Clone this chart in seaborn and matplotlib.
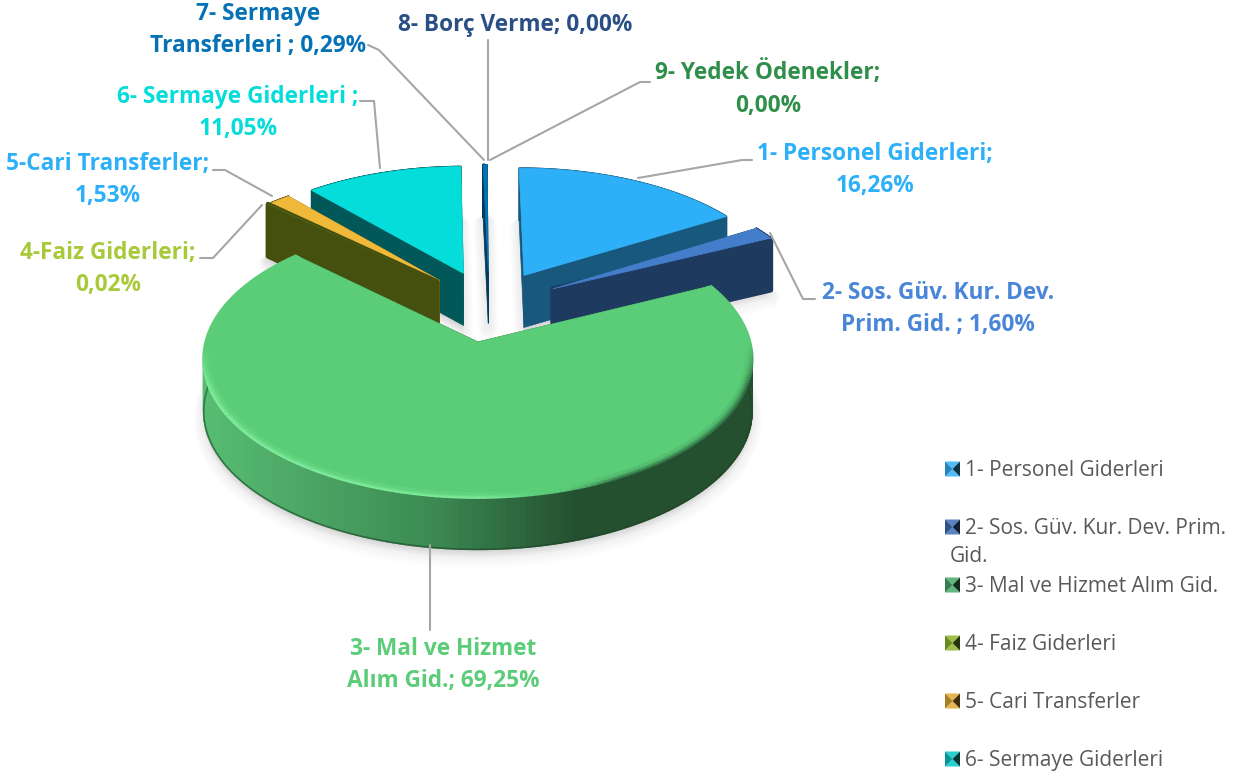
import numpy as np
import seaborn as sns
import matplotlib.pyplot as plt
from matplotlib.collections import LineCollection, PolyCollection
from matplotlib.colors import to_rgb
from matplotlib.patches import Polygon

names = ["1- Personel Giderleri;", "2- Sos. Güv. Kur. Dev.\nPrim. Gid. ;", "3- Mal ve Hizmet\nAlım Gid.;",
         "4-Faiz Giderleri;", "5-Cari Transferler;", "6- Sermaye Giderleri ;",
         "7- Sermaye\nTransferleri ;", "8- Borç Verme;", "9- Yedek Ödenekler;"]
values = [16.26, 1.60, 69.25, 0.02, 1.53, 11.05, 0.29, 0.00, 0.00]
legend_names = ["1- Personel Giderleri", "2- Sos. Güv. Kur. Dev. Prim.\nGid.", "3- Mal ve Hizmet Alım Gid.",
                "4- Faiz Giderleri", "5- Cari Transferler", "6- Sermaye Giderleri"]
top_colors = ["#2EB0F8", "#447ECB", "#5BCD78", "#A8C93A", "#F0B93A", "#04DDDA", "#0572B5", "#2A4F85", "#2F8F4A"]
wall_colors = ["#17587C", "#1E3A5F", "#24502F", "#45500F", "#7A5A15", "#025858", "#03395A", "#152840", "#174825"]
label_colors = ["#2EB0F8", "#4A86D8", "#5BCD78", "#A8C93A", "#2EB0F8", "#04DDDA", "#0572B5", "#2A4F85", "#2F8F4A"]
legend_colors = ["#2EB0F8", "#3A6DB5", "#45A868", "#8DB52A", "#E0A830", "#05C8C8"]

label_pos = [(875, 170), (938, 309), (443, 665), (108, 269), (108, 180), (238, 113), (258, 30), (515, 25), (768, 89)]
leaders = [[(638, 178), (742, 160), (752, 160)],
           [(770, 233), (803, 299), (815, 299)],
           [(430, 545), (430, 630)],
           [(262, 205), (213, 258), (200, 258)],
           [(272, 196), (225, 170), (213, 170)],
           [(380, 168), (374, 101), (360, 101)],
           [(484, 160), (379, 50), (368, 45)],
           [(488, 160), (488, 40)],
           [(490, 160), (640, 82), (650, 82)]]
explode = 0.28
depth = 52
draw_order = [6, 5, 0, 4, 3, 1, 2]

sns.set_theme(style="white")
plt.rcParams["font.family"] = ["Open Sans", "DejaVu Sans"]


def project(x, y):
    # perspective of the tilted pie onto pixels
    w = 1 + 0.125 * (y + 0.277)
    return 478 + 272 * (x + 0.043) / w, 342 - 136 * (y + 0.277) / w


fig = plt.figure(figsize=(12.42, 7.76), dpi=100)
pie_ax = fig.add_axes([0, 0, 0.1, 0.1])
wedges, _ = pie_ax.pie(values, explode=[explode] * len(values), startangle=90, counterclock=False, radius=1)
geometry = [(w.center, w.r, w.theta1, w.theta2) for w in wedges]
pie_ax.remove()

ax = fig.add_axes([0, 0, 1, 1])
ax.set_xlim(0, 1242)
ax.set_ylim(776, 0)
ax.axis("off")

green_ramp = sns.blend_palette(["#57BC72", "#3C8A53", "#24502F"], n_colors=128)
top_green = np.array(to_rgb(top_colors[2]))


def slice_outline(i, shrink=1.0, n=200):
    (cx, cy), r, t1, t2 = geometry[i]
    t = np.radians(np.linspace(t1, t2, n))
    u, v = project(cx + shrink * r * np.cos(t), cy + shrink * r * np.sin(t))
    tip_u, tip_v = project(cx, cy)
    return u, v, tip_u, tip_v


def wall_color(x):
    k = np.interp(x, [204, 430, 570], [0, 0.5, 1])
    return green_ramp[int(k * (len(green_ramp) - 1))]


def rim_color(x, y, strength):
    # light bevel on the front left, dark on the right, nothing at the back
    light = np.array(to_rgb("#80EE9E"))
    dark = np.array(to_rgb("#2F7044"))
    k = np.interp(x, [204, 520, 600, 752], [1, 1, 0, 0])
    col = k * light + (1 - k) * dark
    mix = strength * np.interp(y, [345, 385], [0, 1])
    mix *= np.interp(x, [480, 540, 620], [1, 0, 1])
    return tuple(np.clip(mix * col + (1 - mix) * top_green, 0, 1))


# soft shadows under the slices
for i in draw_order:
    u, v, tip_u, tip_v = slice_outline(i)
    poly = np.column_stack([np.r_[tip_u, u], np.r_[tip_v, v]])
    for grow in range(2, 16, 2):
        shifted = poly + [0, depth + grow * 0.6]
        ax.add_patch(Polygon(shifted, closed=True, fc="#000000", ec="#000000", lw=grow, alpha=0.012, joinstyle="round"))

for i in draw_order:
    u, v, tip_u, tip_v = slice_outline(i)
    # radial faces, far one first; the near face of the thin slices gets soft corners
    ends = sorted([(u[0], v[0]), (u[-1], v[-1])], key=lambda p: p[1])
    for n_face, (end_u, end_v) in enumerate(ends):
        edge = 3.5 if i in (1, 3) and n_face == 1 else 0.5
        quad = [(tip_u, tip_v), (end_u, end_v), (end_u, end_v + depth), (tip_u, tip_v + depth)]
        ax.add_patch(Polygon(quad, closed=True, fc=wall_colors[i], ec=wall_colors[i], lw=edge, joinstyle="round"))
    # outer wall, in small pieces so the big slice can carry its gradient
    quads = [[(u[k], v[k]), (u[k + 1], v[k + 1]), (u[k + 1], v[k + 1] + depth), (u[k], v[k] + depth)] for k in range(len(u) - 1)]
    if i == 2:
        cols = [wall_color(u[k]) for k in range(len(u) - 1)]
    else:
        cols = [wall_colors[i]] * len(quads)
    ax.add_collection(PolyCollection(quads, facecolors=cols, edgecolors=cols, linewidths=1.2))
    if i == 2:
        segs = [[(u[k], v[k] + depth), (u[k + 1], v[k + 1] + depth)] for k in range(len(u) - 1)]
        ax.add_collection(LineCollection(segs, colors="#1E4527", linewidths=1.2, alpha=0.6, zorder=1))
    # top face
    top = np.column_stack([np.r_[tip_u, u], np.r_[tip_v, v]])
    ax.add_patch(Polygon(top, closed=True, fc=top_colors[i], ec=top_colors[i], lw=0 if i == 3 else 0.5))
    if i == 2:
        for shrink, strength in [(1.0, 1.0), (0.993, 0.7), (0.986, 0.4), (0.979, 0.15)]:
            ru, rv, _, _ = slice_outline(i, shrink=shrink)
            segs = [[(ru[k], rv[k]), (ru[k + 1], rv[k + 1])] for k in range(len(ru) - 1)]
            cols = [rim_color(ru[k], rv[k], strength) for k in range(len(ru) - 1)]
            ax.add_collection(LineCollection(segs, colors=cols, linewidths=2.2))

# leader lines
for pts in leaders:
    xs, ys = zip(*pts)
    ax.plot(xs, ys, color="#A6A6A6", lw=1.5, solid_capstyle="round")

# data labels
for name, val, col, (x, y) in zip(names, values, label_colors, label_pos):
    pct = f"{val:.2f}".replace(".", ",") + "%"
    if name.startswith(("2-", "3-", "7-", "8-")):
        text = f"{name} {pct}"
    else:
        text = f"{name}\n{pct}"
    ax.text(x, y, text, color=col, fontsize=16.3, fontweight="bold", ha="center", va="center", linespacing=1.48)

# legend
for k, (name, col) in enumerate(zip(legend_names, legend_colors)):
    y = 469 + 58 * k
    base = np.array(to_rgb(col))
    x0, x1, y0, y1 = 945, 960, y - 7.5, y + 7.5
    xm, ym = (x0 + x1) / 2, (y0 + y1) / 2
    bright = base + (1 - base) * 0.15
    ax.add_patch(Polygon([(x0, y0), (x1, y0), (xm, ym)], fc=bright, lw=0))
    ax.add_patch(Polygon([(x0, y1), (x1, y1), (xm, ym)], fc=bright, lw=0))
    ax.add_patch(Polygon([(x0, y0), (x0, y1), (xm, ym)], fc=base * 0.75, lw=0))
    ax.add_patch(Polygon([(x1, y0), (x1, y1), (xm, ym)], fc=base * 0.28, lw=0))
    lines = name.split("\n")
    ax.text(965, y + 1.5, lines[0], color="#595959", fontsize=15, ha="left", va="center")
    if len(lines) > 1:
        ax.text(950, y + 30, lines[1], color="#595959", fontsize=15, ha="left", va="center")

fig.savefig("out.png", dpi=100)
